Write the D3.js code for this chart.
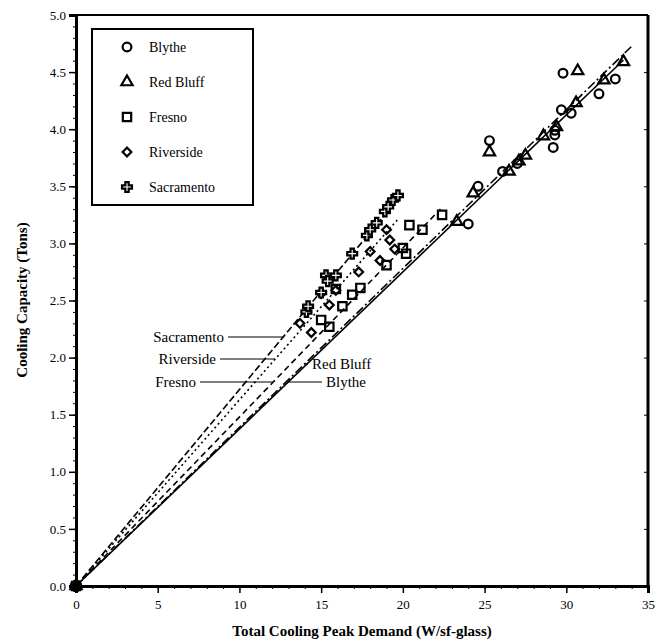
<!DOCTYPE html>
<html><head><meta charset="utf-8">
<script src="https://cdn.jsdelivr.net/npm/d3@7"></script>
<style>body{margin:0;background:#fff}svg{display:block}</style>
</head><body><svg id="c" width="659" height="643"></svg>
<script>
const seriesNames = ["Blythe","Red Bluff","Fresno","Riverside","Sacramento"];
const blythe = [[0,0],[24.0,3.17],[24.6,3.50],[25.3,3.90],[26.1,3.63],[27.0,3.70],[29.2,3.84],[29.3,3.95],[29.3,3.99],[29.7,4.17],[30.3,4.14],[29.8,4.49],[32.0,4.31],[33.0,4.44]];
const redBluff = [[0,0],[23.3,3.19],[24.3,3.44],[25.3,3.80],[26.5,3.63],[27.1,3.72],[27.5,3.77],[28.6,3.94],[29.4,4.02],[30.6,4.23],[30.7,4.51],[32.3,4.43],[33.5,4.59]];
const fresno = [[0,0],[15.0,2.33],[15.5,2.27],[15.9,2.60],[16.3,2.45],[16.9,2.55],[17.4,2.61],[19.0,2.81],[20.0,2.96],[20.2,2.91],[20.4,3.16],[21.2,3.12],[22.4,3.25]];
const riverside = [[0,0],[13.7,2.30],[14.4,2.22],[15.0,2.56],[15.5,2.46],[15.9,2.59],[17.3,2.75],[18.0,2.93],[18.6,2.85],[19.0,3.12],[19.2,3.03],[19.5,2.95]];
const sacramento = [[0,0],[14.1,2.40],[14.2,2.45],[15.0,2.57],[15.3,2.72],[15.4,2.67],[15.9,2.72],[16.9,2.91],[17.8,3.07],[18.0,3.12],[18.4,3.18],[18.9,3.28],[19.1,3.32],[19.4,3.38],[19.7,3.42]];
// fitted lines: slope and x end
const fitSlopes = [0.1375, 0.139, 0.148, 0.163, 0.172];
const fitEnds = [33.5, 34.0, 22.3, 19.7, 20.0];
const xTicks = [0,5,10,15,20,25,30,35];
const yTicks = [0,0.5,1,1.5,2,2.5,3,3.5,4,4.5,5];

const svg = d3.select("#c");
const L=76,R=648,T=15,B=586;
const x = d3.scaleLinear().domain([0,35]).range([L,R]);
const y = d3.scaleLinear().domain([0,5]).range([B,T]);
const serif = "'Liberation Serif','DejaVu Serif',serif";

const dashes = [null,"9,3,2,3","6,4","2,3","7,3"];
const symbols = [d3.symbolCircle,d3.symbolTriangle,d3.symbolSquare,d3.symbolSquare,d3.symbolCross];
const rotations = [0,0,0,45,0];
const sizes = [60,55,70,38,55];
const all = [blythe,redBluff,fresno,riverside,sacramento];

// regression lines
fitSlopes.forEach((s,i)=>{
  svg.append("path").attr("d",d3.line().x(d=>x(d[0])).y(d=>y(d[1]))([[0,0],[fitEnds[i],fitEnds[i]*s]]))
    .attr("fill","none").attr("stroke","#000").attr("stroke-width",1.6)
    .attr("stroke-dasharray",dashes[i]);
});

// points
all.forEach((data,i)=>{
  svg.append("g").selectAll("path").data(data).join("path")
    .attr("transform",d=>`translate(${x(d[0])},${y(d[1])}) rotate(${rotations[i]})`)
    .attr("d",d3.symbol(symbols[i],sizes[i]))
    .attr("fill",i===4?"#fff":"none").attr("stroke","#000").attr("stroke-width",2.2);
});

// frame
svg.append("line").attr("x1",L).attr("x2",R).attr("y1",T).attr("y2",T).attr("stroke","#000").attr("stroke-width",2);
svg.append("line").attr("x1",R).attr("x2",R).attr("y1",T).attr("y2",B).attr("stroke","#000").attr("stroke-width",3);

// axes
const yMinor = d3.range(0,5.001,0.1);
svg.append("g").attr("transform",`translate(${L},0)`)
  .call(d3.axisLeft(y).tickValues(yMinor).tickSize(3).tickFormat(""))
  .call(g=>g.select(".domain").remove());
const ya = svg.append("g").attr("transform",`translate(${L},0)`)
  .call(d3.axisLeft(y).tickValues(yTicks).tickSize(7).tickFormat(d3.format(".1f")));
const xMinor = d3.range(0,35.001,1);
svg.append("g").attr("transform",`translate(0,${B})`)
  .call(d3.axisBottom(x).tickValues(xMinor).tickSize(3).tickFormat(""))
  .call(g=>g.select(".domain").remove());
const xa = svg.append("g").attr("transform",`translate(0,${B})`)
  .call(d3.axisBottom(x).tickValues(xTicks).tickSize(7).tickFormat(d3.format("d")));
// right inward ticks
svg.append("g").attr("transform",`translate(${R},0)`)
  .call(d3.axisLeft(y).tickValues(yTicks).tickSize(4).tickFormat(""))
  .call(g=>g.select(".domain").remove());
[ya,xa].forEach(a=>{
  a.select(".domain").attr("stroke-width",3);
  a.selectAll(".tick line").attr("stroke-width",1.5);
  a.selectAll("text").attr("font-family",serif).attr("font-size",13).attr("fill","#000");
});
svg.selectAll(".tick line").attr("stroke","#000");
xa.selectAll("text").attr("dy","1.0em");

// axis titles
svg.append("text").attr("x",362).attr("y",636).attr("text-anchor","middle")
  .attr("font-family",serif).attr("font-weight","bold").attr("font-size",15).text("Total Cooling Peak Demand (W/sf-glass)");
svg.append("text").attr("transform","translate(27,300) rotate(-90)").attr("text-anchor","middle")
  .attr("font-family",serif).attr("font-weight","bold").attr("font-size",15).text("Cooling Capacity (Tons)");

// legend
svg.append("rect").attr("x",92).attr("y",29).attr("width",161).attr("height",176)
  .attr("fill","#fff").attr("stroke","#000").attr("stroke-width",2);
seriesNames.forEach((n,i)=>{
  const cy = 47+i*35;
  svg.append("path").attr("transform",`translate(127,${cy}) rotate(${rotations[i]})`).attr("d",d3.symbol(symbols[i],sizes[i]))
    .attr("fill",i===4?"#fff":"none").attr("stroke","#000").attr("stroke-width",2.2);
  svg.append("text").attr("x",149).attr("y",cy+5).attr("font-family",serif).attr("font-size",14).text(n);
});

// line labels with leaders
const labels = [
  {i:4,text:"Sacramento",tx:228,ty:337,side:"left"},
  {i:3,text:"Riverside",tx:220,ty:359,side:"left"},
  {i:2,text:"Fresno",tx:200,ty:382,side:"left"},
  {i:1,text:"Red Bluff",tx:312,ty:364,side:"right"},
  {i:0,text:"Blythe",tx:326,ty:382,side:"right"}
];
labels.forEach(l=>{
  const yv = y.invert(l.ty);
  const lx = x(yv/fitSlopes[l.i]);
  const t = svg.append("text").attr("y",l.ty+5).attr("font-family",serif).attr("font-size",15).text(l.text);
  if(l.side==="left"){
    t.attr("x",l.tx-4).attr("text-anchor","end");
    svg.append("line").attr("x1",l.tx).attr("x2",lx).attr("y1",l.ty).attr("y2",l.ty).attr("stroke","#000").attr("stroke-width",1.2);
  } else {
    t.attr("x",l.tx).attr("text-anchor","start");
    if(lx < l.tx-6) svg.append("line").attr("x1",lx).attr("x2",l.tx-4).attr("y1",l.ty).attr("y2",l.ty).attr("stroke","#000").attr("stroke-width",1.2);
  }
});
</script></body></html>
